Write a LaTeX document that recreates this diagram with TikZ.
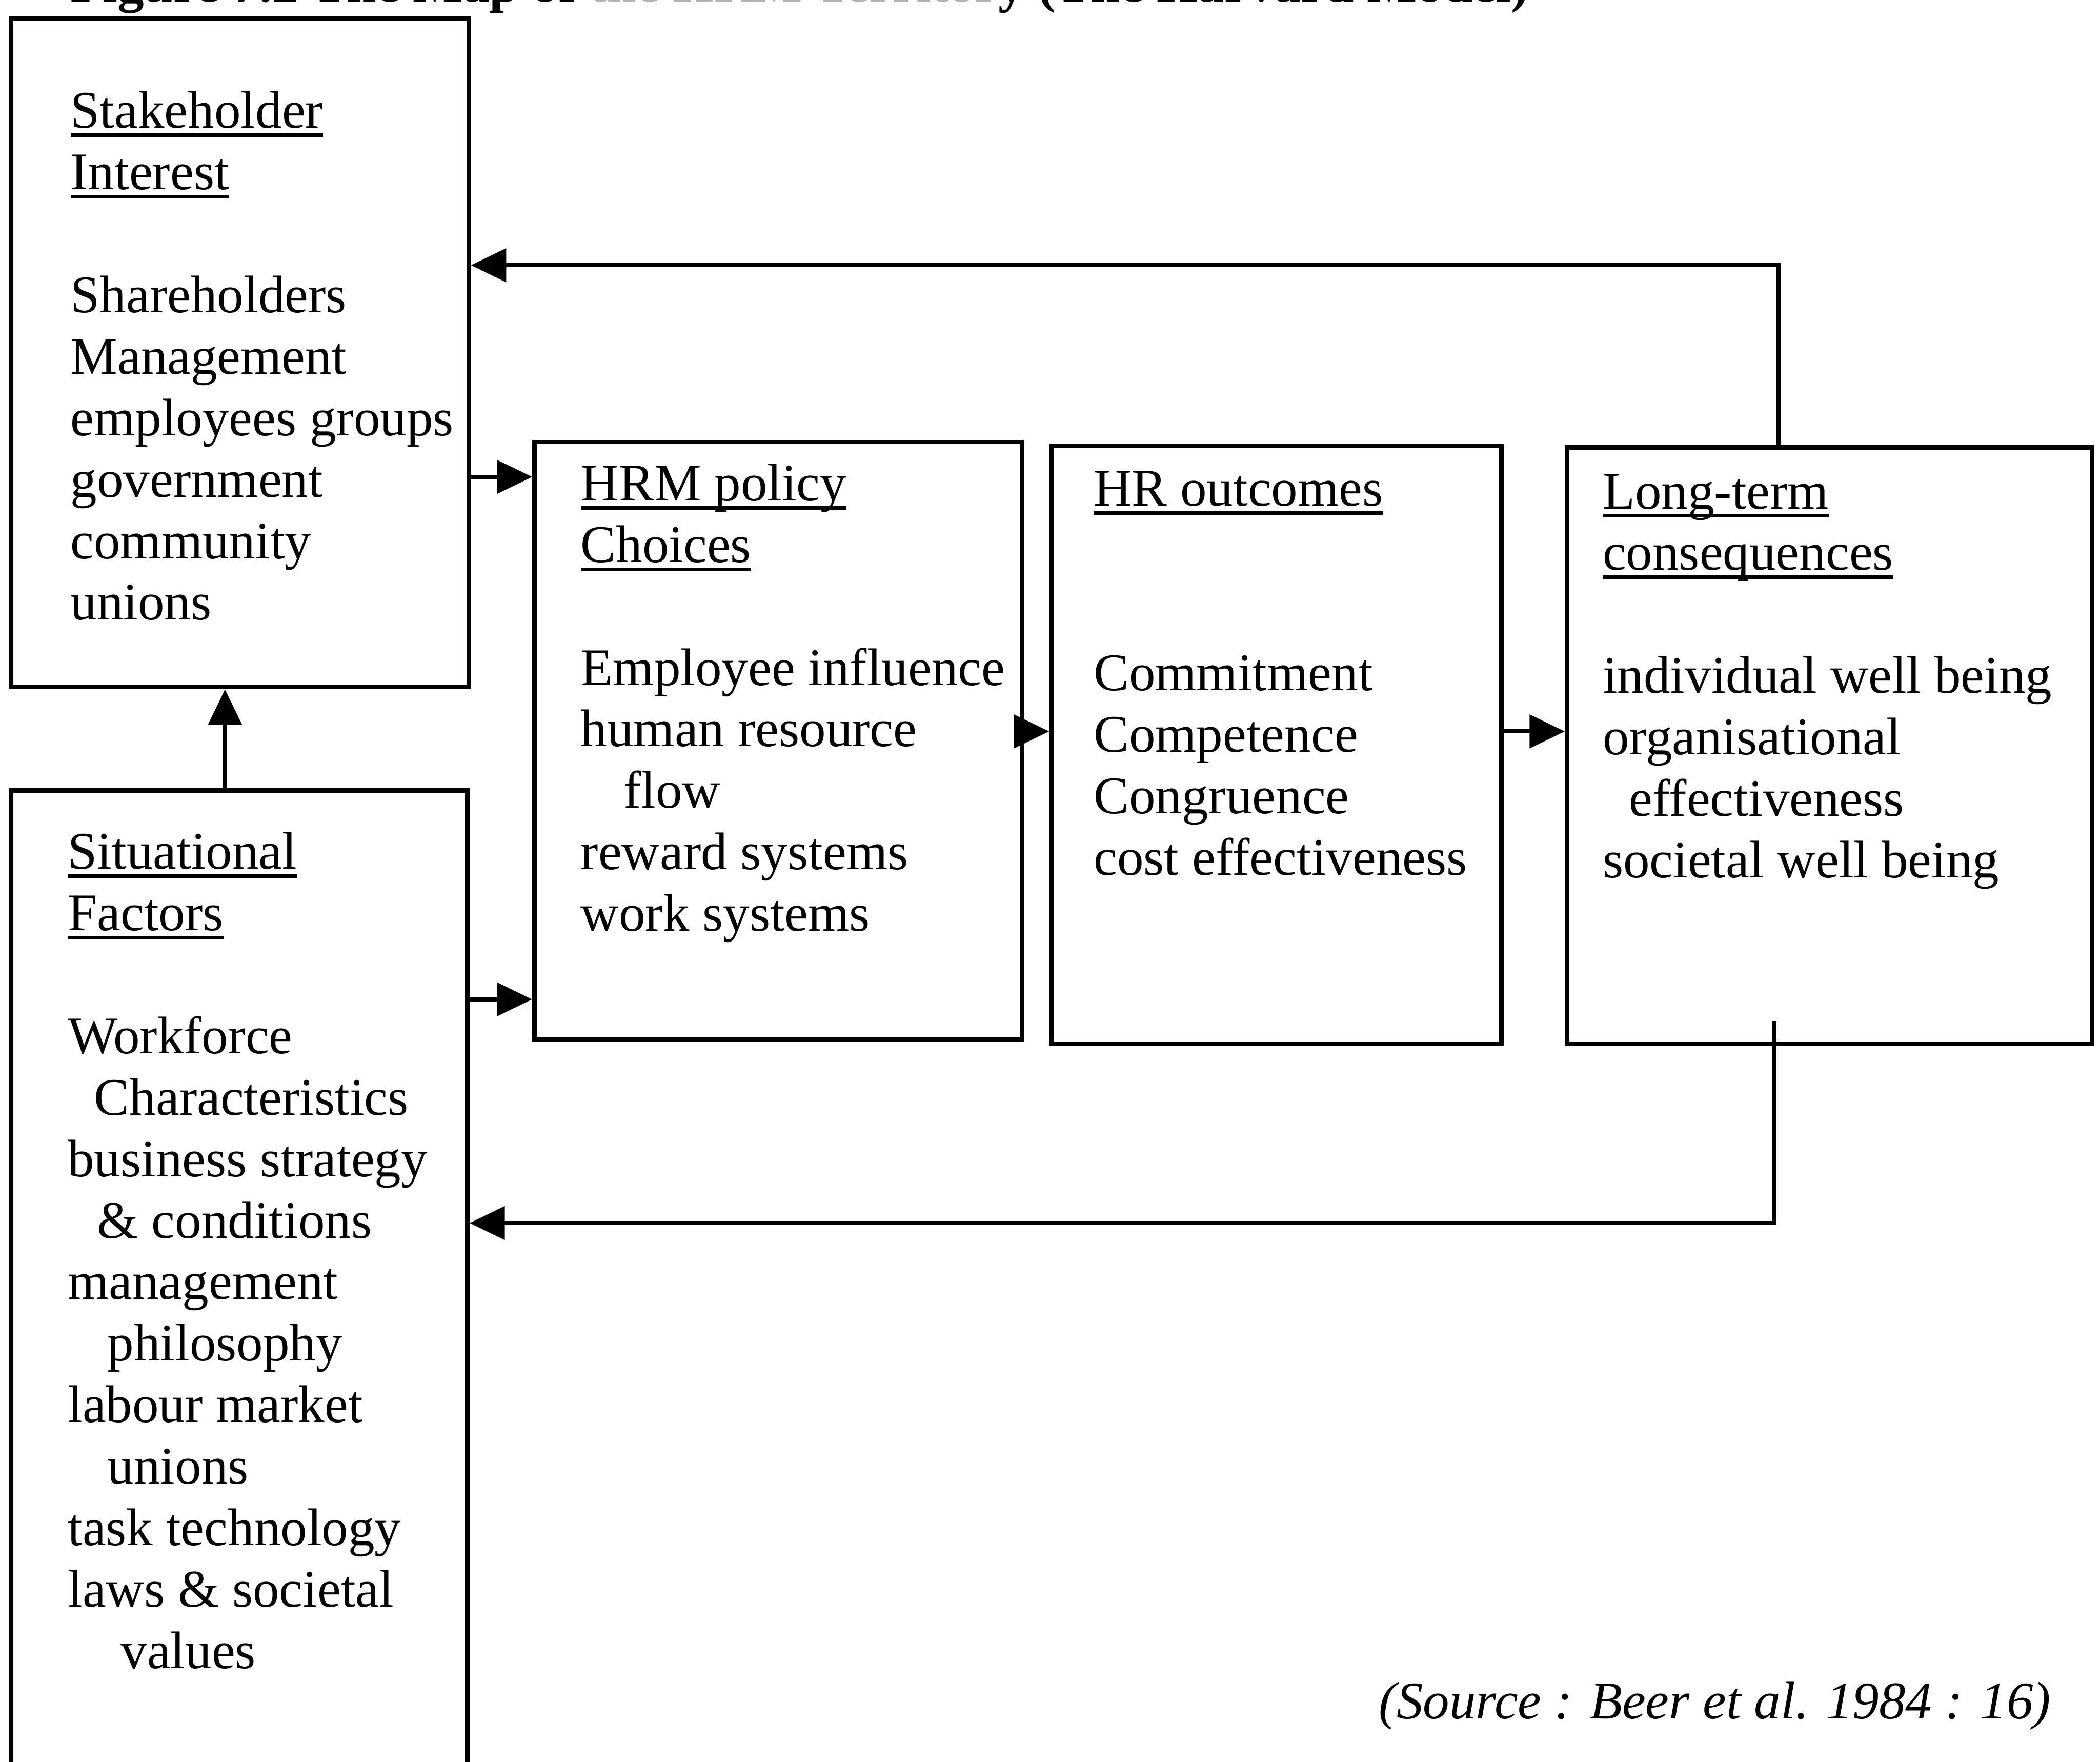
\documentclass[tikz,border=0pt]{standalone}
\usepackage{fontspec}
\setmainfont{Liberation Serif}
\usetikzlibrary{arrows.meta,fit}

% underlined heading with a fixed rule offset (crosses descenders)
\newsavebox\hdbox
\newcommand\hdl[1]{\leavevmode\sbox\hdbox{#1}\rlap{\rule[-2pt]{\wd\hdbox}{0.8pt}}\usebox\hdbox}
\newcommand\ind[1]{\hspace*{#1pt}}

\begin{document}
\begin{tikzpicture}[x=0.304pt,y=-0.304pt,
  panel/.style={draw,line width=1pt,inner sep=0pt},
  body/.style={anchor=north west,inner sep=0pt,align=left,
    font=\fontsize{12}{13.95}\selectfont},
  conn/.style={line width=0.9pt,-{Triangle[length=8pt,width=7.5pt]}}]

\useasboundingbox (0,0) rectangle (1568,1315);
\clip (0,0) rectangle (1568,1315);

% caption line along the top edge (middle words printed faintly)
\node[anchor=base west,inner sep=0pt,font=\fontsize{12}{13.95}\selectfont\bfseries]
  (title) at (52,1.5) {Figure 7.2 The Map of \textcolor{black!30}{the HRM Territor}y (The Harvard Model)};

% boxes
\node[panel,fit={(8,14) (350,513)}] (sh) {};
\node[panel,fit={(8,590) (349,1420)}] (sit) {};
\node[panel,fit={(399,330) (763,776)}] (hrm) {};
\node[panel,fit={(785,333) (1121,779)}] (hro) {};
\node[panel,fit={(1170,334) (1562,779)}] (lt) {};

% box contents
\node[body] (shtext) at (52,62.9) {\strut\hdl{Stakeholder}\\\hdl{Interest}\\\strut\\
  Shareholders\\Management\\employees groups\\government\\community\\unions};

\node[body] (sittext) at (50,616) {\strut\hdl{Situational}\\\hdl{Factors}\\\strut\\
  Workforce\\\ind{6}Characteristics\\business strategy\\\ind{6.7}\& conditions\\
  management\\\ind{9}philosophy\\labour market\\\ind{9}unions\\task technology\\
  laws \& societal\\\ind{12}values};

\node[body] (hrmtext) at (433,341) {\strut\hdl{HRM policy}\\\hdl{Choices}\\\strut\\
  Employee influence\\human resource\\\ind{9.7}flow\\reward systems\\work systems};

\node[body] (hrotext) at (816,345) {\strut\hdl{HR outcomes}\\\strut\\\strut\\
  Commitment\\Competence\\Congruence\\cost effectiveness};

\node[body] (lttext) at (1196,347) {\strut\hdl{Long-term}\\\hdl{consequences}\\\strut\\
  individual well being\\organisational\\\ind{6}effectiveness\\societal well being};

\node[anchor=base east,inner sep=0pt,font=\fontsize{12}{13.95}\selectfont\itshape]
  (src) at (1532,1283) {(Source : Beer et al. 1984 : 16)};

% connector levels
\coordinate (lvA) at (0,356);
\coordinate (lvB) at (0,746);
\coordinate (lvC) at (0,546);
\coordinate (upx) at (168,0);
\coordinate (ftop) at (1328,198);
\coordinate (fbs) at (1325,762);
\coordinate (fbb) at (1325,913);

% forward flow
\draw[conn] (sh.east |- lvA) -- (hrm.west |- lvA);
\draw[conn] (sit.east |- lvB) -- (hrm.west |- lvB);
\draw[conn] (sit.north -| upx) -- (sh.south -| upx);
\draw[conn] (hrm.east |- lvC) -- (hro.west |- lvC);
\draw[conn] (hro.east |- lvC) -- (lt.west |- lvC);

% feedback loops
\draw[conn] (lt.north -| ftop) -- (ftop) -- (sh.east |- ftop);
\draw[conn] (fbs) -- (fbb) -- (sit.east |- fbb);

\end{tikzpicture}
\end{document}
